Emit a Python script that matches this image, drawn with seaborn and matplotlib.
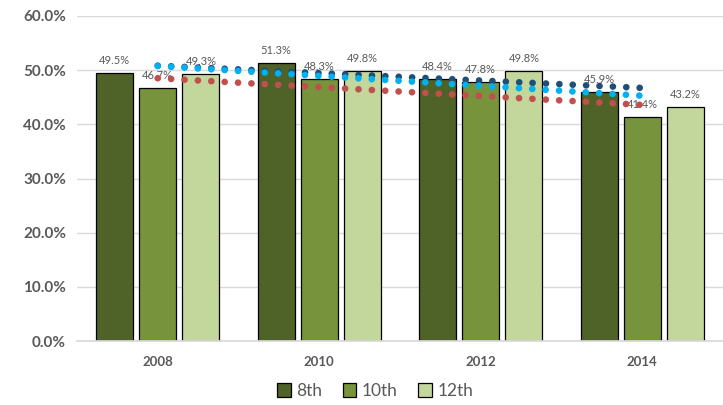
"""
plot.py
Grouped bars by grade and survey year, with a linear trend line per grade.
Output:
  - out.png
"""

import numpy as np
import pandas as pd
import matplotlib
matplotlib.use('Agg')
import matplotlib.pyplot as plt
from matplotlib.patches import Patch
import seaborn as sns

# Data
years = ['2008', '2010', '2012', '2014']
grades = ['8th', '10th', '12th']
pct_8th = [49.5, 51.3, 48.4, 45.9]
pct_10th = [46.7, 48.3, 47.8, 41.4]
pct_12th = [49.3, 49.8, 49.8, 43.2]

bar_colors = ['#4F6228', '#77933C', '#C3D69B']
trend_colors = {'8th': '#1F4E79', '10th': '#C0504D', '12th': '#00B0F0'}
TEXT = '#595959'

sns.set_theme(style='white')
plt.rcParams['font.family'] = ['Lato', 'DejaVu Sans']

#..long table for seaborn
tbl = pd.DataFrame({
    'year': years * 3,
    'grade': [g for g in grades for _ in years],
    'pct': pct_8th + pct_10th + pct_12th,
})

fig = plt.figure(figsize=(7.23, 4.05), dpi=100)
ax = fig.add_axes([0.1065, 0.158, 0.8935, 0.8025])

sns.barplot(
    data=tbl, x='year', y='pct', hue='grade', order=years, hue_order=grades,
    palette=bar_colors, saturation=1, width=0.8, gap=0.14, edgecolor='black',
    linewidth=0.9, legend=False, ax=ax, zorder=2,
)

for cont in ax.containers:
    ax.bar_label(cont, fmt='%.1f%%', padding=5, fontsize=8, color=TEXT, zorder=3)

#..linear trend lines (same as the spreadsheet trendline)
xpos = np.arange(len(years))
for grade, vals in [('8th', pct_8th), ('10th', pct_10th), ('12th', pct_12th)]:
    sns.regplot(
        x=xpos, y=np.array(vals), scatter=False, ci=None, truncate=True, ax=ax,
        line_kws=dict(color=trend_colors[grade], lw=4.8, linestyle=(0, (0.01, 2.0)),
                      dash_capstyle='round', zorder=4),
    )

ax.set_xlim(-0.5, 3.5)
ax.set_ylim(0, 60)
ax.set_yticks(np.arange(0, 61, 10))
ax.set_yticklabels([f'{v:.1f}%' for v in np.arange(0, 61, 10)],
                   fontsize=11, fontweight='bold', color=TEXT)
ax.set_xticks(xpos)
ax.set_xticklabels(years, fontsize=9.5, fontweight='bold', color=TEXT)
ax.tick_params(axis='both', length=0)
ax.tick_params(axis='x', pad=11)
ax.tick_params(axis='y', pad=8)
ax.set_xlabel('')
ax.set_ylabel('')
ax.grid(axis='y', color='#D9D9D9', linewidth=1, zorder=0)
ax.set_axisbelow(True)
for side in ['top', 'right', 'left']:
    ax.spines[side].set_visible(False)
ax.spines['bottom'].set_color('#D9D9D9')

handles = [Patch(facecolor=c, edgecolor='black', linewidth=0.9) for c in bar_colors]
fig.legend(handles, grades, loc='center', bbox_to_anchor=(375 / 723, 14 / 405),
           ncol=3, frameon=False, fontsize=12.5, labelcolor=TEXT,
           handlelength=0.8, handleheight=0.8, handletextpad=0.3, columnspacing=1.2)

fig.savefig('out.png', dpi=100)
